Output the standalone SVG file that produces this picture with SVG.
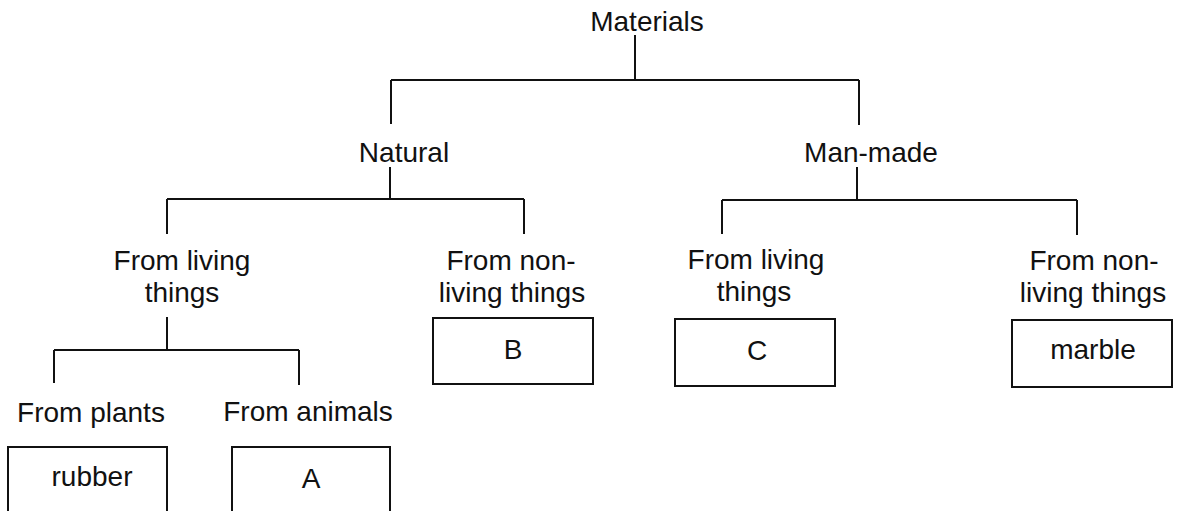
<svg xmlns="http://www.w3.org/2000/svg" width="1183" height="511" viewBox="0 0 1183 511">
  <style>
    .lbl { font-family: "Liberation Sans", Arial, sans-serif; font-size: 28px; fill: #111; text-anchor: middle; }
    .box { fill: #fff; stroke: #111; stroke-width: 2; }
    .wire { fill: none; stroke: #111; stroke-width: 2; }
  </style>
  <rect width="1183" height="511" fill="#fff"/>

  <!-- tree connectors -->
  <g id="connectors" class="wire">
    <!-- Materials -> Natural / Man-made -->
    <path d="M635 35 V80 M391 80 H859 M391 80 V124 M859 80 V125"/>
    <!-- Natural -> living / non-living -->
    <path d="M390 167 V199 M167 199 H524 M167 199 V234 M524 199 V234"/>
    <!-- Man-made -> living / non-living -->
    <path d="M857 167 V200 M722 200 H1077 M722 200 V234 M1077 200 V235"/>
    <!-- From living things -> plants / animals -->
    <path d="M167 317 V350 M54 350 H299 M54 350 V383 M299 350 V385"/>
  </g>

  <g id="materials">
    <text class="lbl" x="647" y="31">Materials</text>
  </g>

  <g id="natural">
    <text class="lbl" x="404" y="162">Natural</text>
  </g>

  <g id="man-made">
    <text class="lbl" x="871" y="162">Man-made</text>
  </g>

  <g id="natural-living">
    <text class="lbl" x="182" y="270">From living</text>
    <text class="lbl" x="182" y="302">things</text>
  </g>

  <g id="natural-nonliving">
    <text class="lbl" x="511" y="270">From non-</text>
    <text class="lbl" x="512" y="302">living things</text>
    <rect class="box" x="433" y="318" width="160" height="66"/>
    <text class="lbl" x="513" y="359">B</text>
  </g>

  <g id="manmade-living">
    <text class="lbl" x="756" y="269">From living</text>
    <text class="lbl" x="754" y="301">things</text>
    <rect class="box" x="675" y="319" width="160" height="67"/>
    <text class="lbl" x="757" y="360">C</text>
  </g>

  <g id="manmade-nonliving">
    <text class="lbl" x="1094" y="270">From non-</text>
    <text class="lbl" x="1093" y="302">living things</text>
    <rect class="box" x="1012" y="320" width="160" height="67"/>
    <text class="lbl" x="1093" y="359">marble</text>
  </g>

  <g id="from-plants">
    <text class="lbl" x="91" y="422">From plants</text>
    <rect class="box" x="8" y="447" width="159" height="90"/>
    <text class="lbl" x="92" y="486">rubber</text>
  </g>

  <g id="from-animals">
    <text class="lbl" x="308" y="421">From animals</text>
    <rect class="box" x="232" y="447" width="158" height="90"/>
    <text class="lbl" x="311" y="488">A</text>
  </g>
</svg>
